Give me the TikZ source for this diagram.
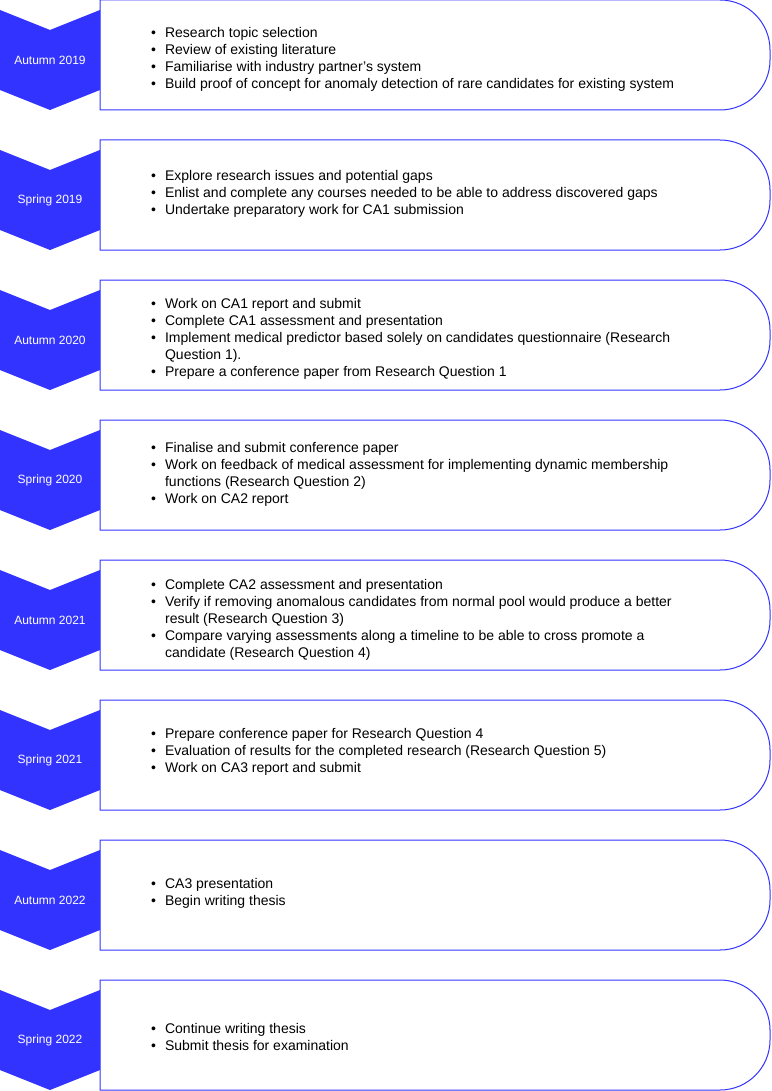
\documentclass[tikz,border=0pt]{standalone}
\usepackage{fontspec}
\setmainfont{Liberation Sans}
\definecolor{phaseblue}{HTML}{3333FF}
\begin{document}
\begin{tikzpicture}[x=1pt,y=-1pt,
    season/.style={text=white,font=\fontsize{12}{14}\selectfont},
    tasks/.style={anchor=base west,inner sep=0pt,font=\fontsize{14}{17}\selectfont},
    taskbox/.style={draw=phaseblue,line width=1pt}]
  \useasboundingbox (0,0) rectangle (771,1091);
  \foreach \i/\when/\base/\todo in {
      0/Autumn 2019/38/{\textbullet & Research topic selection\\
                     \textbullet & Review of existing literature\\
                     \textbullet & Familiarise with industry partner's system\\
                     \textbullet & Build proof of concept for anomaly detection of rare candidates for existing system},
      1/Spring 2019/41/{\textbullet & Explore research issues and potential gaps\\
                     \textbullet & Enlist and complete any courses needed to be able to address discovered gaps\\
                     \textbullet & Undertake preparatory work for CA1 submission},
      2/Autumn 2020/28/{\textbullet & Work on CA1 report and submit\\
                     \textbullet & Complete CA1 assessment and presentation\\
                     \textbullet & Implement medical predictor based solely on candidates questionnaire (Research\\
                                 & Question 1).\\
                     \textbullet & Prepare a conference paper from Research Question 1},
      3/Spring 2020/32/{\textbullet & Finalise and submit conference paper\\
                     \textbullet & Work on feedback of medical assessment for implementing dynamic membership\\
                                 & functions (Research Question 2)\\
                     \textbullet & Work on CA2 report},
      4/Autumn 2021/29/{\textbullet & Complete CA2 assessment and presentation\\
                     \textbullet & Verify if removing anomalous candidates from normal pool would produce a better\\
                                 & result (Research Question 3)\\
                     \textbullet & Compare varying assessments along a timeline to be able to cross promote a\\
                                 & candidate (Research Question 4)},
      5/Spring 2021/38/{\textbullet & Prepare conference paper for Research Question 4\\
                     \textbullet & Evaluation of results for the completed research (Research Question 5)\\
                     \textbullet & Work on CA3 report and submit},
      6/Autumn 2022/48/{\textbullet & CA3 presentation\\
                     \textbullet & Begin writing thesis},
      7/Spring 2022/53/{\textbullet & Continue writing thesis\\
                     \textbullet & Submit thesis for examination}} {
    \pgfmathsetmacro{\y}{140*\i}
    % chevron with the semester
    \fill[phaseblue] (0,\y+10) -- (50,\y+30) -- (100,\y+10) -- (100,\y+90)
      -- (50,\y+110) -- (0,\y+90) -- cycle;
    \node[season] (s\i) at (50,\y+60) {\when};
    % box with the work planned
    \draw[taskbox] (100,\y) -- (720,\y) arc[start angle=90,end angle=0,radius=50pt]
      -- (770,\y+60) arc[start angle=0,end angle=-90,radius=50pt] -- (100,\y+110) -- cycle;
    \node[tasks] (t\i) at (151,\y+\base)
      {\begin{tabular}[t]{@{}l@{\hspace{9pt}}l@{}}\todo\end{tabular}};
  }
\end{tikzpicture}
\end{document}
